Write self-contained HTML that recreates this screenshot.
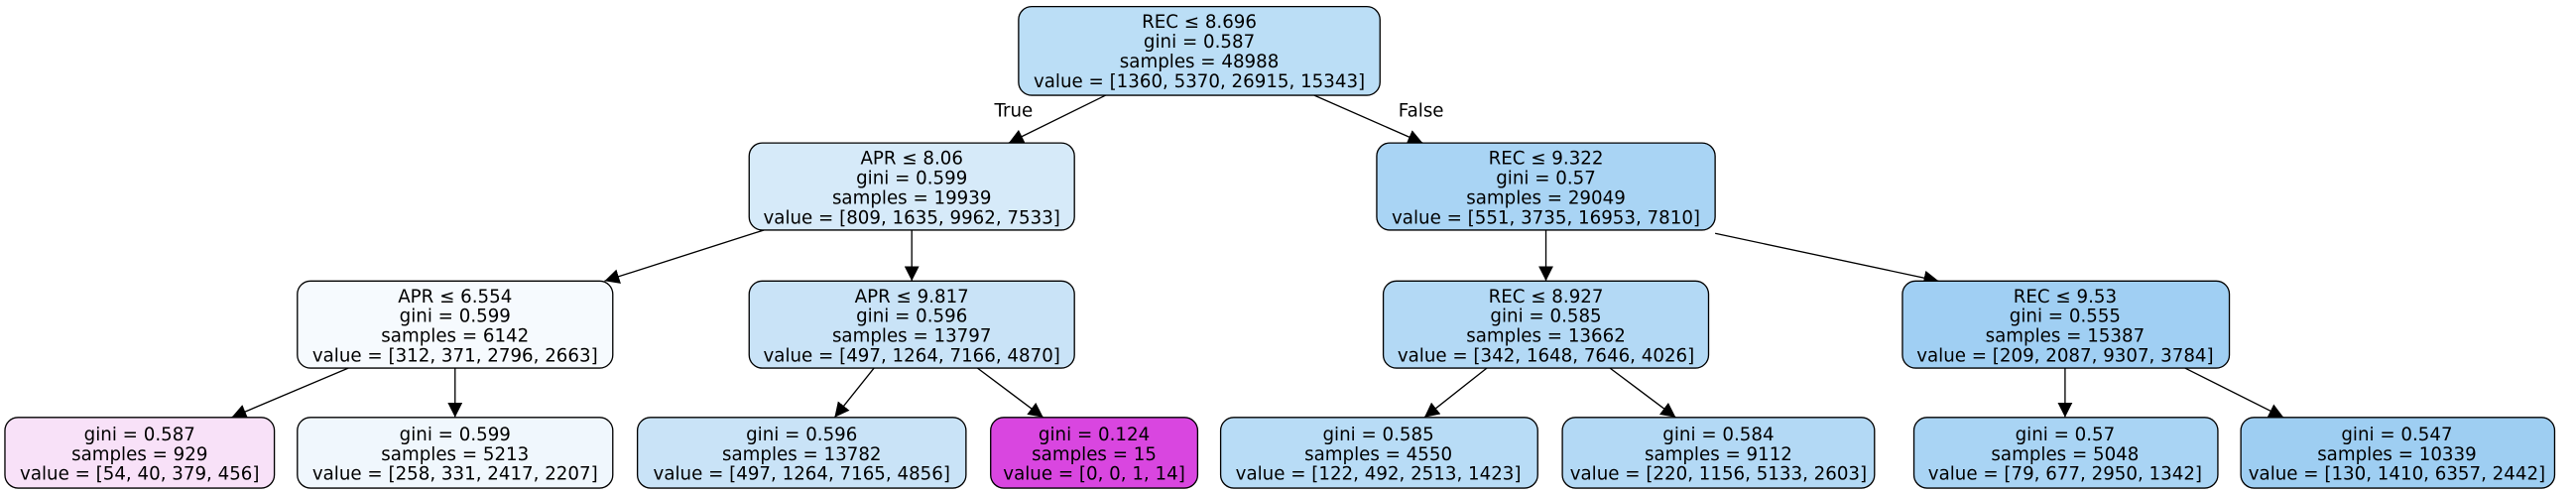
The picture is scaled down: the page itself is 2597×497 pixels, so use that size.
<!DOCTYPE html>
<html><head><meta charset="utf-8"><style>html,body{margin:0;padding:0;background:#fff}svg{display:block}</style></head>
<body>
<svg width="2597" height="497" viewBox="0 0 1568 300" preserveAspectRatio="none" xmlns="http://www.w3.org/2000/svg" font-family="'DejaVu Sans','Liberation Sans',sans-serif" font-size="11" text-anchor="middle">
<defs><marker id="a" viewBox="0 0 10 10" refX="10" refY="5" markerWidth="9" markerHeight="9" markerUnits="userSpaceOnUse" orient="auto"><path d="M0,0L10,5L0,10z" fill="#000"/></marker></defs>
<g stroke="#000" stroke-width="0.8" marker-end="url(#a)" fill="none">
<line x1="673" y1="58" x2="614" y2="87"/>
<line x1="800" y1="58" x2="866" y2="87"/>
<line x1="465" y1="140" x2="368" y2="171"/>
<line x1="555" y1="140" x2="555" y2="171"/>
<line x1="941" y1="140" x2="941" y2="171"/>
<line x1="1044" y1="142" x2="1180" y2="171"/>
<line x1="212" y1="224" x2="141" y2="254"/>
<line x1="277" y1="224" x2="277" y2="254"/>
<line x1="532" y1="224" x2="508" y2="254"/>
<line x1="595" y1="224" x2="635" y2="254"/>
<line x1="905" y1="224" x2="867" y2="254"/>
<line x1="980" y1="224" x2="1020" y2="254"/>
<line x1="1257" y1="224" x2="1257" y2="254"/>
<line x1="1330" y1="224" x2="1390" y2="254"/>
</g>
<text x="617" y="71">True</text><text x="865" y="71">False</text>
<g stroke="#000" stroke-width="0.8">
<rect x="620" y="4" width="220" height="54" rx="8" fill="#bbdef6"/>
<rect x="456" y="87" width="198" height="53" rx="8" fill="#d6eaf9"/>
<rect x="838" y="87" width="206" height="53" rx="8" fill="#a9d4f4"/>
<rect x="181" y="171" width="192" height="53" rx="8" fill="#f6fafe"/>
<rect x="456" y="171" width="198" height="53" rx="8" fill="#c9e3f7"/>
<rect x="842" y="171" width="198" height="53" rx="8" fill="#b3d9f5"/>
<rect x="1158" y="171" width="199" height="53" rx="8" fill="#a0cff3"/>
<rect x="3" y="254" width="164" height="43" rx="8" fill="#f8e1f8"/>
<rect x="181" y="254" width="192" height="43" rx="8" fill="#f0f7fd"/>
<rect x="388" y="254" width="200" height="43" rx="8" fill="#c9e3f7"/>
<rect x="603" y="254" width="126" height="43" rx="8" fill="#d946e0"/>
<rect x="743" y="254" width="193" height="43" rx="8" fill="#b8dcf6"/>
<rect x="951" y="254" width="190" height="43" rx="8" fill="#b3d9f5"/>
<rect x="1165" y="254" width="185" height="43" rx="8" fill="#a9d4f4"/>
<rect x="1364" y="254" width="191" height="43" rx="8" fill="#9ecef2"/>
</g>
<text x="730" y="17">REC ≤ 8.696</text><text x="730" y="29">gini = 0.587</text><text x="730" y="41">samples = 48988</text><text x="730" y="53">value = [1360, 5370, 26915, 15343]</text>
<text x="555" y="100">APR ≤ 8.06</text><text x="555" y="112">gini = 0.599</text><text x="555" y="124">samples = 19939</text><text x="555" y="136">value = [809, 1635, 9962, 7533]</text>
<text x="941" y="100">REC ≤ 9.322</text><text x="941" y="112">gini = 0.57</text><text x="941" y="124">samples = 29049</text><text x="941" y="136">value = [551, 3735, 16953, 7810]</text>
<text x="277" y="184">APR ≤ 6.554</text><text x="277" y="196">gini = 0.599</text><text x="277" y="208">samples = 6142</text><text x="277" y="220">value = [312, 371, 2796, 2663]</text>
<text x="555" y="184">APR ≤ 9.817</text><text x="555" y="196">gini = 0.596</text><text x="555" y="208">samples = 13797</text><text x="555" y="220">value = [497, 1264, 7166, 4870]</text>
<text x="941" y="184">REC ≤ 8.927</text><text x="941" y="196">gini = 0.585</text><text x="941" y="208">samples = 13662</text><text x="941" y="220">value = [342, 1648, 7646, 4026]</text>
<text x="1257" y="184">REC ≤ 9.53</text><text x="1257" y="196">gini = 0.555</text><text x="1257" y="208">samples = 15387</text><text x="1257" y="220">value = [209, 2087, 9307, 3784]</text>
<text x="85" y="268">gini = 0.587</text><text x="85" y="280">samples = 929</text><text x="85" y="292">value = [54, 40, 379, 456]</text>
<text x="277" y="268">gini = 0.599</text><text x="277" y="280">samples = 5213</text><text x="277" y="292">value = [258, 331, 2417, 2207]</text>
<text x="488" y="268">gini = 0.596</text><text x="488" y="280">samples = 13782</text><text x="488" y="292">value = [497, 1264, 7165, 4856]</text>
<text x="666" y="268">gini = 0.124</text><text x="666" y="280">samples = 15</text><text x="666" y="292">value = [0, 0, 1, 14]</text>
<text x="839" y="268">gini = 0.585</text><text x="839" y="280">samples = 4550</text><text x="839" y="292">value = [122, 492, 2513, 1423]</text>
<text x="1046" y="268">gini = 0.584</text><text x="1046" y="280">samples = 9112</text><text x="1046" y="292">value = [220, 1156, 5133, 2603]</text>
<text x="1257" y="268">gini = 0.57</text><text x="1257" y="280">samples = 5048</text><text x="1257" y="292">value = [79, 677, 2950, 1342]</text>
<text x="1459" y="268">gini = 0.547</text><text x="1459" y="280">samples = 10339</text><text x="1459" y="292">value = [130, 1410, 6357, 2442]</text>
</svg>
</body></html>
